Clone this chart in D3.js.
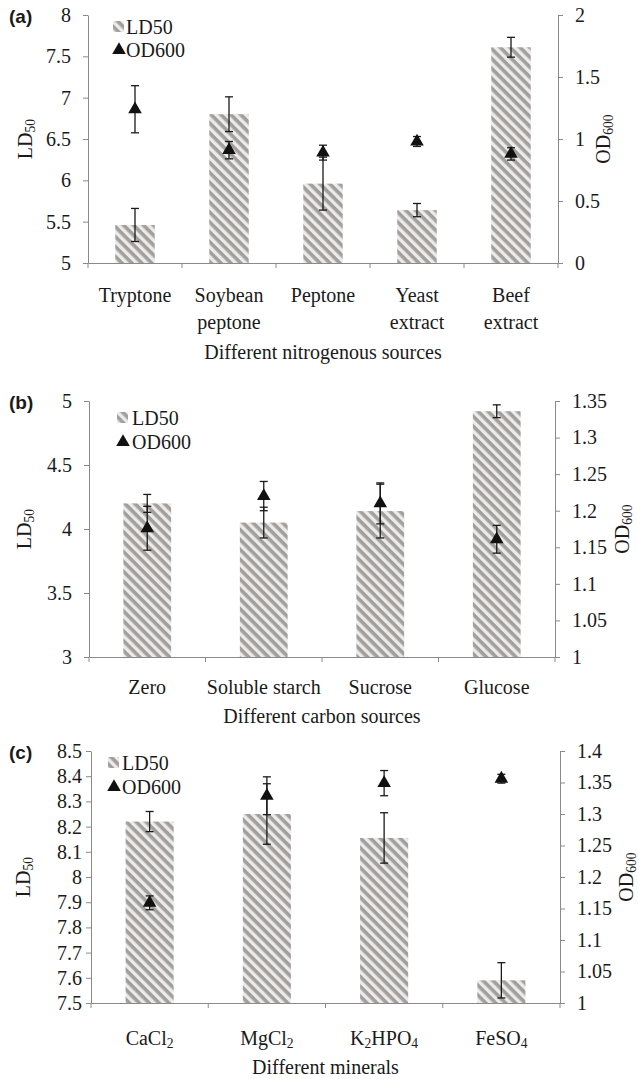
<!DOCTYPE html>
<html>
<head>
<meta charset="utf-8">
<script src="https://cdn.jsdelivr.net/npm/d3@7"></script>
<style>
  body { margin: 0; background: #fff; }
  text { font-family: "Liberation Serif", "Times New Roman", serif; fill: #1a1a1a; }
</style>
</head>
<body>
<script>
// panel (a) nitrogenous sources
var catsA = ["Tryptone", "Soybean|peptone", "Peptone", "Yeast|extract", "Beef|extract"];
var ldA = [5.46, 6.80, 5.96, 5.64, 7.61];
var ldErrA = [0.20, 0.21, 0.32, 0.08, 0.12];
var odA = [1.24, 0.91, 0.89, 0.98, 0.88];
var odErrA = [0.19, 0.07, 0.06, 0.04, 0.05];
var leftTicksA = [5, 5.5, 6, 6.5, 7, 7.5, 8];
var rightTicksA = [0, 0.5, 1, 1.5, 2];

// panel (b) carbon sources
var catsB = ["Zero", "Soluble starch", "Sucrose", "Glucose"];
var ldB = [4.20, 4.05, 4.14, 4.92];
var ldErrB = [0.07, 0.12, 0.21, 0.05];
var odB = [1.176, 1.22, 1.21, 1.161];
var odErrB = [0.03, 0.02, 0.028, 0.019];
var leftTicksB = [3, 3.5, 4, 4.5, 5];
var rightTicksB = [1, 1.05, 1.1, 1.15, 1.2, 1.25, 1.3, 1.35];

// panel (c) minerals
var catsC = ["CaCl_2", "MgCl_2", "K_2HPO_4", "FeSO_4"];
var ldC = [8.22, 8.25, 8.155, 7.59];
var ldErrC = [0.04, 0.12, 0.10, 0.07];
var odC = [1.159, 1.329, 1.349, 1.356];
var odErrC = [0.011, 0.03, 0.02, 0.007];
var leftTicksC = [7.5, 7.6, 7.7, 7.8, 7.9, 8, 8.1, 8.2, 8.3, 8.4, 8.5];
var rightTicksC = [1, 1.05, 1.1, 1.15, 1.2, 1.25, 1.3, 1.35, 1.4];

var svg = d3.select("body").append("svg")
    .attr("width", 638)
    .attr("height", 1079);

var defs = svg.append("defs");
var pat = defs.append("pattern")
    .attr("id", "hatch")
    .attr("patternUnits", "userSpaceOnUse")
    .attr("width", 7).attr("height", 7)
    .attr("patternTransform", "rotate(45)");
pat.append("rect").attr("width", 7).attr("height", 7).attr("fill", "#ecebea");
pat.append("rect").attr("width", 7).attr("height", 3.6).attr("fill", "#a29e9b");

var axisColor = "#8a8a8a";

// writes text where "_123" parts become subscripts
function richText(sel, str, size) {
  var parts = str.split(/(_\d+)/).filter(function(p){ return p.length; });
  var shifted = false;
  parts.forEach(function(p){
    if (p[0] === "_") {
      sel.append("tspan").text(p.slice(1))
        .style("font-size", (size * 0.68) + "px")
        .attr("dy", 3);
      shifted = true;
    } else {
      var ts = sel.append("tspan").text(p).style("font-size", size + "px");
      if (shifted) { ts.attr("dy", -3); shifted = false; }
    }
  });
}

function drawPanel(o) {
  var g = svg.append("g");

  var x = d3.scaleBand().domain(o.cats).range([o.x0, o.x1]).padding(0);
  var yL = d3.scaleLinear().domain(o.leftDomain).range([o.yBottom, o.yTop]);
  var yR = d3.scaleLinear().domain(o.rightDomain).range([o.yBottom, o.yTop]);
  var bw = x.bandwidth() * o.barRatio;

  // bars
  g.selectAll(".bar").data(o.cats).enter().append("rect")
      .attr("x", function(d){ return x(d) + (x.bandwidth() - bw) / 2; })
      .attr("width", bw)
      .attr("y", function(d, i){ return yL(o.ld[i]); })
      .attr("height", function(d, i){ return o.yBottom - yL(o.ld[i]); })
      .attr("fill", "url(#hatch)");

  // axes
  var ax = g.append("g").attr("transform", "translate(0," + o.yBottom + ")")
      .call(d3.axisBottom(x).tickValues([]).tickSizeOuter(0));
  ax.selectAll(".cross").data(d3.range(o.cats.length + 1)).enter().append("line")
      .attr("x1", function(i){ return o.x0 + i * x.step(); })
      .attr("x2", function(i){ return o.x0 + i * x.step(); })
      .attr("y1", 0).attr("y2", 5)
      .attr("stroke", axisColor);

  var al = g.append("g").attr("transform", "translate(" + o.x0 + ",0)")
      .call(d3.axisLeft(yL).tickValues(o.leftTicks).tickSize(5).tickSizeOuter(0)
        .tickPadding(o.leftPad).tickFormat(d3.format("")));
  var ar = g.append("g").attr("transform", "translate(" + o.x1 + ",0)")
      .call(d3.axisRight(yR).tickValues(o.rightTicks).tickSize(5).tickSizeOuter(0)
        .tickPadding(12).tickFormat(d3.format("")));

  [ax, al, ar].forEach(function(a){
    a.selectAll("path, line").attr("stroke", axisColor);
    a.selectAll("text").style("font-size", "20px")
      .style("font-family", "'Liberation Serif', serif").attr("fill", "#1a1a1a");
  });

  // error bars
  function errBars(vals, errs, scale, cls) {
    var eg = g.selectAll("." + cls).data(o.cats).enter().append("g")
        .attr("transform", function(d){ return "translate(" + (x(d) + x.bandwidth() / 2) + ",0)"; });
    eg.append("line")
        .attr("y1", function(d, i){ return scale(vals[i] - errs[i]); })
        .attr("y2", function(d, i){ return scale(vals[i] + errs[i]); });
    eg.append("line").attr("x1", -4).attr("x2", 4)
        .attr("y1", function(d, i){ return scale(vals[i] + errs[i]); })
        .attr("y2", function(d, i){ return scale(vals[i] + errs[i]); });
    eg.append("line").attr("x1", -4).attr("x2", 4)
        .attr("y1", function(d, i){ return scale(vals[i] - errs[i]); })
        .attr("y2", function(d, i){ return scale(vals[i] - errs[i]); });
    eg.selectAll("line").attr("stroke", "#1a1a1a").attr("stroke-width", 1.3);
  }
  errBars(o.ld, o.ldErr, yL, "eld");
  errBars(o.od, o.odErr, yR, "eod");

  var tri = d3.symbol().type(d3.symbolTriangle).size(80);
  g.selectAll(".tri").data(o.cats).enter().append("path")
      .attr("d", tri)
      .attr("transform", function(d, i){
        return "translate(" + (x(d) + x.bandwidth() / 2) + "," + yR(o.od[i]) + ")";
      })
      .attr("fill", "#111");

  // category labels
  g.selectAll(".cat").data(o.cats).enter().append("text")
      .attr("text-anchor", "middle")
      .style("font-size", "20px")
      .each(function(d){
        var t = d3.select(this);
        d.split("|").forEach(function(l, k){
          var ts = t.append("tspan")
              .attr("x", x(d) + x.bandwidth() / 2)
              .attr("y", o.catY + k * 27);
          richText(ts, l, 20);
        });
      });

  g.append("text").attr("x", (o.x0 + o.x1) / 2).attr("y", o.titleY)
      .attr("text-anchor", "middle").style("font-size", "20px")
      .text(o.title);

  // y titles
  var tl = g.append("text")
      .attr("transform", "translate(" + o.ltX + "," + ((o.yTop + o.yBottom) / 2) + ") rotate(-90)")
      .attr("text-anchor", "middle").style("font-size", "20px");
  richText(tl, "LD_50", 20);
  var tr = g.append("text")
      .attr("transform", "translate(" + o.rtX + "," + ((o.yTop + o.yBottom) / 2) + ") rotate(-90)")
      .attr("text-anchor", "middle").style("font-size", "20px");
  richText(tr, "OD_600", 20);

  // panel letter
  g.append("text").attr("x", 9).attr("y", o.yTop + 8)
      .style("font-family", "'Liberation Sans', Arial, sans-serif")
      .style("font-weight", "bold").style("font-size", "19px")
      .text(o.letter);

  // legend
  g.append("rect").attr("x", o.legX - 6).attr("y", o.legY - 6)
      .attr("width", 11).attr("height", 11).attr("fill", "url(#hatch)");
  g.append("text").attr("x", o.legTX).attr("y", o.legY + 7)
      .style("font-size", "20px").text("LD50");
  g.append("path").attr("d", tri)
      .attr("transform", "translate(" + o.legX + "," + (o.legY + o.legGap) + ")")
      .attr("fill", "#111");
  g.append("text").attr("x", o.legTX).attr("y", o.legY + o.legGap + 7)
      .style("font-size", "20px").text("OD600");
}

drawPanel({
  cats: catsA, ld: ldA, ldErr: ldErrA, od: odA, odErr: odErrA,
  leftTicks: leftTicksA, rightTicks: rightTicksA,
  leftDomain: [5, 8], rightDomain: [0, 2],
  x0: 88, x1: 558, yTop: 15, yBottom: 263, barRatio: 0.42, leftPad: 12,
  catY: 302, titleY: 359, title: "Different nitrogenous sources",
  ltX: 32, rtX: 610, letter: "(a)",
  legX: 119, legY: 27, legGap: 23, legTX: 126
});

drawPanel({
  cats: catsB, ld: ldB, ldErr: ldErrB, od: odB, odErr: odErrB,
  leftTicks: leftTicksB, rightTicks: rightTicksB,
  leftDomain: [3, 5], rightDomain: [1, 1.35],
  x0: 89, x1: 555, yTop: 401, yBottom: 657, barRatio: 0.41, leftPad: 12,
  catY: 694, titleY: 723, title: "Different carbon sources",
  ltX: 31, rtX: 629, letter: "(b)",
  legX: 123, legY: 418, legGap: 24, legTX: 132
});

drawPanel({
  cats: catsC, ld: ldC, ldErr: ldErrC, od: odC, odErr: odErrC,
  leftTicks: leftTicksC, rightTicks: rightTicksC,
  leftDomain: [7.5, 8.5], rightDomain: [1, 1.4],
  x0: 91, x1: 560, yTop: 751, yBottom: 1003, barRatio: 0.41, leftPad: 4,
  catY: 1045, titleY: 1074, title: "Different minerals",
  ltX: 30, rtX: 633, letter: "(c)",
  legX: 114, legY: 763, legGap: 24, legTX: 122
});
</script>
</body>
</html>
